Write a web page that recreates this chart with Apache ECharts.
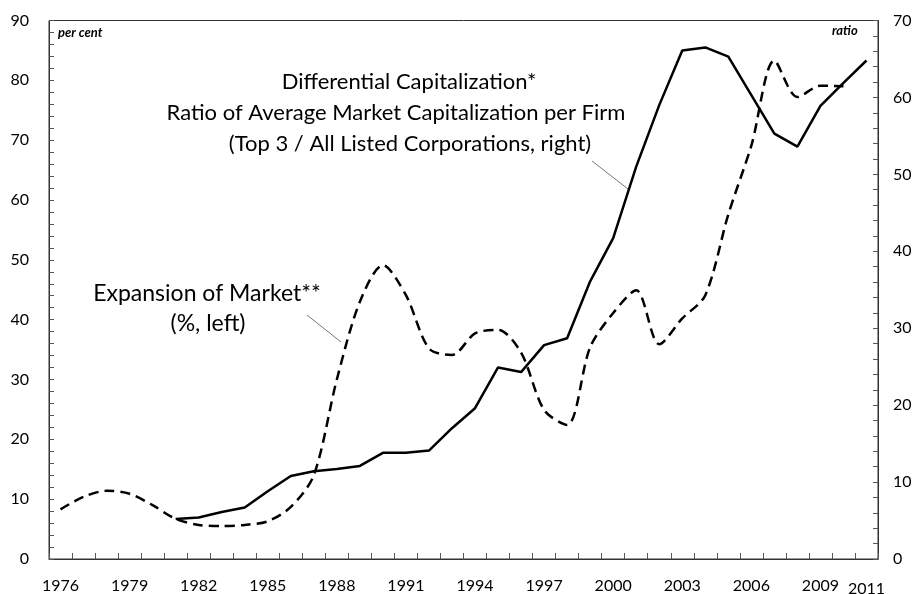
<!DOCTYPE html>
<html>
<head>
<meta charset="utf-8">
<script src="https://cdn.jsdelivr.net/npm/echarts@6/dist/echarts.min.js"></script>
<style>
  html, body { margin: 0; padding: 0; background: #fff; }
  #chart { width: 916px; height: 594px; }
</style>
</head>
<body>
<div id="chart"></div>
<script>
// Years on the category axis
const years = [];
for (let y = 1976; y <= 2011; y++) years.push(String(y));

// Expansion of Market (%, left axis), dashed
const marketExpansion = [
  8.3, 10.4, 11.4, 10.9, 9.0, 6.7, 5.7, 5.5, 5.7, 6.3,
  8.7, 14.0, 30.0, 43.0, 49.1, 44.1, 35.2, 34.1, 37.7, 38.3,
  34.5, 24.9, 22.4, 35.4, 41.1, 44.9, 35.9, 40.2, 44.1, 57.6,
  69.1, 83.3, 77.2, 79.1, 79.0, null
];

// Differential Capitalization ratio (right axis), solid
const diffCapRatio = [
  null, null, null, null, null, 5.2, 5.4, 6.1, 6.7, 8.8,
  10.8, 11.4, 11.7, 12.1, 13.8, 13.8, 14.1, 17.0, 19.6, 24.9,
  24.3, 27.8, 28.7, 36.1, 41.7, 51.0, 59.0, 66.1, 66.5, 65.3,
  60.3, 55.3, 53.6, 58.9, 61.9, 64.8
];

const FONT = 'Lato, "Open Sans", sans-serif';

const chart = echarts.init(document.getElementById('chart'), null, { renderer: 'canvas' });

function label(text, x, y, size) {
  return {
    type: 'text', x: x, y: y,
    style: { text: text, font: size + 'px ' + FONT, fill: '#000', align: 'center', verticalAlign: 'middle' }
  };
}

chart.setOption({
  animation: false,
  backgroundColor: '#fff',
  grid: {
    left: 49, right: 38, top: 20.5, bottom: 35,
    containLabel: false,
    outerBoundsMode: 'none',
    show: true, borderColor: '#333', borderWidth: 1
  },
  xAxis: {
    type: 'category',
    data: years,
    boundaryGap: true,
    axisLine: { lineStyle: { color: '#333', width: 1 } },
    axisTick: { show: true, inside: true, length: 6, interval: 0, lineStyle: { color: '#555' } },
    axisLabel: {
      interval: 0,
      margin: 19,
      color: '#000',
      fontFamily: FONT,
      fontSize: 16,
      formatter: function (v) {
        const y = Number(v);
        if (y === 2011) return '{last|' + v + '}';
        return (y - 1976) % 3 === 0 ? v : '';
      },
      rich: { last: { fontFamily: FONT, fontSize: 16, color: '#000', padding: [3, 0, 0, 0] } }
    },
    splitLine: { show: false }
  },
  yAxis: [
    {
      type: 'value', min: 0, max: 90, interval: 10, position: 'left',
      axisLine: { show: true, lineStyle: { color: '#333', width: 1 } },
      axisTick: { show: true, inside: true, length: 5, lineStyle: { color: '#555' } },
      minorTick: { show: true, splitNumber: 5, length: 5, lineStyle: { color: '#555' } },
      axisLabel: { margin: 20, color: '#000', fontFamily: FONT, fontSize: 16 },
      splitLine: { show: false }
    },
    {
      type: 'value', min: 0, max: 70, interval: 10, position: 'right',
      axisLine: { show: true, lineStyle: { color: '#333', width: 1 } },
      axisTick: { show: true, inside: true, length: 5, lineStyle: { color: '#555' } },
      minorTick: { show: true, splitNumber: 5, length: 5, lineStyle: { color: '#555' } },
      axisLabel: { margin: 15, color: '#000', fontFamily: FONT, fontSize: 16 },
      splitLine: { show: false }
    }
  ],
  series: [
    {
      name: 'Expansion of Market',
      type: 'line',
      yAxisIndex: 0,
      data: marketExpansion,
      smooth: 0.3,
      symbol: 'none',
      connectNulls: false,
      lineStyle: { color: '#000', width: 2.5, type: [10, 6] },
      z: 3
    },
    {
      name: 'Differential Capitalization',
      type: 'line',
      yAxisIndex: 1,
      data: diffCapRatio,
      smooth: false,
      symbol: 'none',
      connectNulls: false,
      lineStyle: { color: '#000', width: 2.5 },
      z: 4
    }
  ],
  graphic: [
    // axis unit captions
    { type: 'text', left: 58, top: 26, style: { text: 'per cent', font: 'italic bold 13px ' + FONT, fill: '#000' } },
    { type: 'text', left: 832, top: 24, style: { text: 'ratio', font: 'italic bold 13px ' + FONT, fill: '#000' } },
    // annotation for the solid line
    label('Differential Capitalization*', 409, 82, 22),
    label('Ratio of Average Market Capitalization per Firm', 396, 113, 22),
    label('(Top 3 / All Listed Corporations, right)', 410, 144, 22),
    { type: 'line', shape: { x1: 592, y1: 161, x2: 628, y2: 189 }, style: { stroke: '#777', lineWidth: 1 } },
    // annotation for the dashed line
    label('Expansion of Market**', 207, 294, 23),
    label('(%, left)', 208, 324, 23),
    { type: 'line', shape: { x1: 307, y1: 315, x2: 341, y2: 342 }, style: { stroke: '#777', lineWidth: 1 } }
  ]
});
</script>
</body>
</html>
